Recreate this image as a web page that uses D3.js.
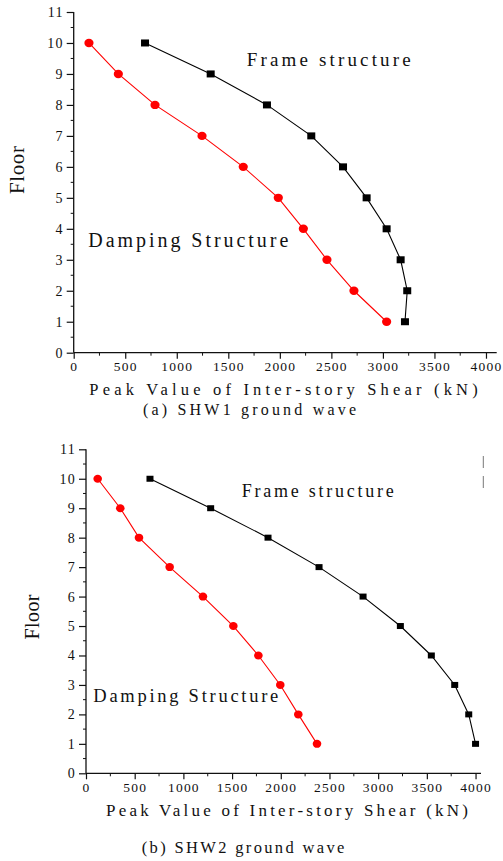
<!DOCTYPE html>
<html><head><meta charset="utf-8">
<script src="https://cdn.jsdelivr.net/npm/d3@7"></script>
<style>
html,body{margin:0;padding:0;background:#fff;}
svg{display:block;}
</style></head>
<body>
<svg id="c" width="503" height="861"></svg>
<script>
const floors = [1,2,3,4,5,6,7,8,9,10];
const frameA = [3214,3236,3172,3036,2842,2613,2305,1875,1329,692];
const dampA  = [3036,2719,2457,2228,1985,1645,1245,789,433,148];
const frameB = [4000,3930,3786,3546,3228,2845,2393,1869,1280,657];
const dampB  = [2372,2180,1995,1770,1513,1201,859,544,352,120];
const xTicks = [0,500,1000,1500,2000,2500,3000,3500,4000];
const yTicks = [0,1,2,3,4,5,6,7,8,9,10,11];
const xLabel = "Peak Value of Inter-story Shear (kN)";
const yLabel = "Floor";
const seriesNames = ["Frame structure","Damping Structure"];
const captions = ["(a) SHW1 ground wave","(b) SHW2 ground wave"];

const FONT = "'Liberation Serif','Times New Roman','DejaVu Serif',serif";
const svg = d3.select("#c");

const panels = [
  {frame:frameA, damp:dampA, xmax:4104, xr:[73.7,496.7], yr:[352.7,12], cap:captions[0],
   frameTxt:{x:246.7,y:66,w:164,fs:19}, dampTxt:{x:88.3,y:247,w:200,fs:20},
   xl:{x1:89.3,x2:477.7,y:395,fs:16.5}, capT:{x1:143,x2:356,y:414.5,fs:16},
   fl:{cx:17,cy:170,len:48,fs:21}, sq:8, cr:[4.6,4.2]},
  {frame:frameB, damp:dampB, xmax:4056, xr:[86,481], yr:[773.3,449.3], cap:captions[1],
   frameTxt:{x:241.7,y:497,w:152,fs:18}, dampTxt:{x:93.3,y:702,w:185,fs:18.5},
   xl:{x1:106,x2:468,y:816,fs:17}, capT:{x1:141.7,x2:344.3,y:853,fs:16.5},
   fl:{cx:32,cy:617,len:45,fs:20}, sq:7, cr:[4.3,4]}
];

function T(sel){ return sel.style("font-family",FONT).attr("fill","#111"); }

panels.forEach(p => {
  const x = d3.scaleLinear().domain([0,p.xmax]).range(p.xr);
  const y = d3.scaleLinear().domain([0,11]).range(p.yr);
  const g = svg.append("g");

  const xa = g.append("g").attr("transform",`translate(0,${p.yr[0]})`)
    .call(d3.axisBottom(x).tickValues(xTicks).tickSize(6).tickPadding(3).tickFormat(d3.format("d")));
  xa.select(".domain").attr("d",`M${p.xr[0]},0H${p.xr[1]}`).attr("stroke","#111").attr("stroke-width",1.3);
  xa.selectAll(".tick line").attr("stroke","#111").attr("stroke-width",1.2);
  T(xa.selectAll(".tick text")).attr("font-size",13.5).attr("letter-spacing",1.2);
  const xMinor = d3.range(250,p.xmax,500);
  g.append("g").selectAll("line").data(xMinor).join("line")
    .attr("x1",d=>x(d)).attr("x2",d=>x(d)).attr("y1",p.yr[0]).attr("y2",p.yr[0]+3)
    .attr("stroke","#111").attr("stroke-width",1);

  const ya = g.append("g").attr("transform",`translate(${p.xr[0]},0)`)
    .call(d3.axisLeft(y).tickValues(yTicks).tickSize(7).tickPadding(3).tickFormat(d3.format("d")));
  ya.select(".domain").attr("d",`M0,${p.yr[0]}V${p.yr[1]}`).attr("stroke","#111").attr("stroke-width",1.3);
  ya.selectAll(".tick line").attr("stroke","#111").attr("stroke-width",1.2);
  T(ya.selectAll(".tick text")).attr("font-size",14).attr("letter-spacing",1.2);
  const yMinor = d3.range(0.5,11,1);
  g.append("g").selectAll("line").data(yMinor).join("line")
    .attr("x1",p.xr[0]-3).attr("x2",p.xr[0]).attr("y1",d=>y(d)).attr("y2",d=>y(d))
    .attr("stroke","#111").attr("stroke-width",1);

  const line = d3.line().x(d=>x(d[0])).y(d=>y(d[1]));
  const fpts = floors.map((f,i)=>[p.frame[i],f]);
  const dpts = floors.map((f,i)=>[p.damp[i],f]);
  g.append("path").attr("d",line(fpts)).attr("fill","none").attr("stroke","#000").attr("stroke-width",1.1);
  g.append("path").attr("d",line(dpts)).attr("fill","none").attr("stroke","#ff0000").attr("stroke-width",1.1);
  g.append("g").selectAll("rect").data(fpts).join("rect")
    .attr("x",d=>x(d[0])-p.sq/2).attr("y",d=>y(d[1])-p.sq/2+0.5)
    .attr("width",p.sq).attr("height",p.sq-1).attr("fill","#000");
  g.append("g").selectAll("ellipse").data(dpts).join("ellipse")
    .attr("cx",d=>x(d[0])).attr("cy",d=>y(d[1])).attr("rx",p.cr[0]).attr("ry",p.cr[1]).attr("fill","#ff0000");

  T(g.append("text")).attr("x",p.frameTxt.x).attr("y",p.frameTxt.y).attr("font-size",p.frameTxt.fs)
    .attr("textLength",p.frameTxt.w).attr("lengthAdjust","spacing").text(seriesNames[0]);
  T(g.append("text")).attr("x",p.dampTxt.x).attr("y",p.dampTxt.y).attr("font-size",p.dampTxt.fs)
    .attr("textLength",p.dampTxt.w).attr("lengthAdjust","spacing").text(seriesNames[1]);
  T(g.append("text")).attr("x",p.xl.x1).attr("y",p.xl.y).attr("font-size",p.xl.fs)
    .attr("textLength",p.xl.x2-p.xl.x1).attr("lengthAdjust","spacing").text(xLabel);
  T(g.append("text")).attr("x",p.capT.x1).attr("y",p.capT.y).attr("font-size",p.capT.fs)
    .attr("textLength",p.capT.x2-p.capT.x1).attr("lengthAdjust","spacing").text(p.cap);
  T(g.append("text")).attr("transform",`translate(${p.fl.cx+p.fl.fs*0.33},${p.fl.cy}) rotate(-90)`)
    .attr("text-anchor","middle").attr("font-size",p.fl.fs)
    .attr("textLength",p.fl.len).attr("lengthAdjust","spacing").text(yLabel);
});

svg.append("line").attr("x1",483.3).attr("x2",483.3).attr("y1",456).attr("y2",468).attr("stroke","#777").attr("stroke-width",1);
svg.append("line").attr("x1",483.3).attr("x2",483.3).attr("y1",476).attr("y2",488).attr("stroke","#777").attr("stroke-width",1);
</script>
</body></html>
